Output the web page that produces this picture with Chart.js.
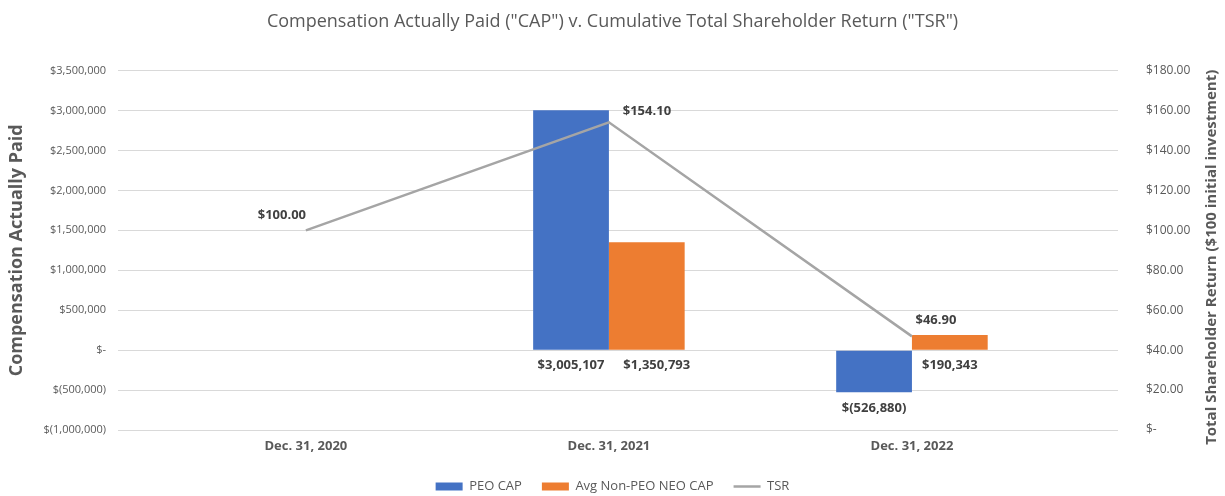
<!DOCTYPE html>
<html>
<head>
<meta charset="utf-8">
<script src="https://cdn.jsdelivr.net/npm/chart.js@4.4.1/dist/chart.umd.min.js"></script>
<style>
    html, body { margin: 0; padding: 0; background: #fff; }
    #wrap { width: 1225px; height: 496px; }
</style>
</head>
<body>
<div id="wrap"><canvas id="capChart" width="1225" height="496"></canvas></div>
<script>
// values
const categories = ['Dec. 31, 2020', 'Dec. 31, 2021', 'Dec. 31, 2022'];
const peoCap = [null, 3005107, -526880];
const avgNonPeoCap = [null, 1350793, 190343];
const tsr = [100.00, 154.10, 46.90];
const capTicks = [-1000000, -500000, 0, 500000, 1000000, 1500000, 2000000, 2500000, 3000000, 3500000];
const tsrTicks = [0, 20, 40, 60, 80, 100, 120, 140, 160, 180];

const FONT = '"Open Sans", sans-serif';
const GREY = '#595959';

function fmtCap(v) {
    if (v === 0) return '$-';
    if (v < 0) return '$(' + Math.abs(v).toLocaleString('en-US') + ')';
    return '$' + v.toLocaleString('en-US');
}

function fmtTsr(v) {
    return v === 0 ? '$-' : '$' + v.toFixed(2);
}

const toPoints = arr => arr.map((y, i) => ({ x: i, y: y }));

// bar values under the bars, TSR values beside the points, right axis title
const valueLabels = {
    id: 'valueLabels',
    afterDatasetsDraw(chart, args, opts) {
        const ctx = chart.ctx;
        ctx.save();
        ctx.font = 'bold 13px ' + FONT;
        ctx.fillStyle = '#404040';
        ctx.textAlign = 'center';
        ctx.textBaseline = 'middle';
        [0, 1].forEach(di => {
            const ds = chart.data.datasets[di];
            chart.getDatasetMeta(di).data.forEach((bar, i) => {
                const v = ds.data[i].y;
                if (v == null) return;
                const shift = (di === 1 && v > 1000000) ? 10 : 0;
                ctx.fillText(fmtCap(v), bar.x + shift, Math.max(bar.y, bar.base) + 16);
            });
        });
        const lineDs = chart.data.datasets[2];
        chart.getDatasetMeta(2).data.forEach((pt, i) => {
            const off = opts.offsets[i] || [0, -14];
            ctx.fillText(fmtTsr(lineDs.data[i].y), pt.x + off[0], pt.y + off[1]);
        });

        const area = chart.chartArea;
        ctx.font = 'bold 15px ' + FONT;
        ctx.fillStyle = GREY;
        ctx.translate(1212, (area.top + area.bottom) / 2 + 7);
        ctx.rotate(-Math.PI / 2);
        ctx.fillText('Total Shareholder Return ($100 initial investment)', 0, 0);
        ctx.restore();
    }
};

const chart = new Chart(document.getElementById('capChart'), {
    data: {
        datasets: [
            {
                type: 'bar',
                label: 'PEO CAP',
                data: toPoints(peoCap),
                yAxisID: 'y',
                backgroundColor: '#4472C4',
                pointStyle: 'rect',
                categoryPercentage: 0.5,
                barPercentage: 1.0,
                order: 1
            },
            {
                type: 'bar',
                label: 'Avg Non-PEO NEO CAP',
                data: toPoints(avgNonPeoCap),
                yAxisID: 'y',
                backgroundColor: '#ED7D31',
                pointStyle: 'rect',
                categoryPercentage: 0.5,
                barPercentage: 1.0,
                order: 1
            },
            {
                type: 'line',
                label: 'TSR',
                data: toPoints(tsr),
                yAxisID: 'y1',
                borderColor: '#A5A5A5',
                backgroundColor: '#A5A5A5',
                borderWidth: 2.5,
                pointRadius: 0,
                pointStyle: 'line',
                order: 0
            }
        ]
    },
    options: {
        responsive: false,
        animation: false,
        plugins: {
            title: {
                display: true,
                text: 'Compensation Actually Paid ("CAP") v. Cumulative Total Shareholder Return ("TSR")',
                color: GREY,
                font: { family: FONT, size: 18, weight: 'normal' },
                padding: { top: 11, bottom: 38 }
            },
            legend: {
                position: 'bottom',
                maxHeight: 36,
                labels: {
                    usePointStyle: true,
                    pointStyleWidth: 27,
                    boxHeight: 8,
                    padding: 20,
                    color: GREY,
                    font: { family: FONT, size: 13 },
                    sort: (a, b) => a.datasetIndex - b.datasetIndex
                }
            },
            tooltip: { enabled: false },
            valueLabels: {
                offsets: [[-24, -15], [38, -11], [24, -16]]
            }
        },
        scales: {
            x: {
                type: 'linear',
                min: -0.62,
                max: 2.68,
                offset: false,
                grid: { display: false, drawTicks: false },
                border: { display: false },
                afterBuildTicks: s => { s.ticks = categories.map((c, i) => ({ value: i })); },
                afterFit: s => { s.height = 30; },
                ticks: {
                    padding: 8,
                    color: GREY,
                    font: { family: FONT, size: 13, weight: 'bold' },
                    callback: v => categories[v]
                }
            },
            y: {
                position: 'left',
                min: capTicks[0],
                max: capTicks[capTicks.length - 1],
                afterBuildTicks: s => { s.ticks = capTicks.map(v => ({ value: v })); },
                afterFit: s => { s.width = 118; },
                grid: { color: '#D9D9D9', drawTicks: false },
                border: { display: false },
                ticks: {
                    padding: 12,
                    color: GREY,
                    font: { family: FONT, size: 11 },
                    callback: v => fmtCap(v)
                },
                title: {
                    display: true,
                    text: 'Compensation Actually Paid',
                    color: GREY,
                    font: { family: FONT, size: 18, weight: 'bold' },
                    padding: { top: 6, bottom: 0 }
                }
            },
            y1: {
                position: 'right',
                min: tsrTicks[0],
                max: tsrTicks[tsrTicks.length - 1],
                afterBuildTicks: s => { s.ticks = tsrTicks.map(v => ({ value: v })); },
                afterFit: s => { s.width = 107; },
                grid: { display: false },
                border: { display: false },
                ticks: {
                    padding: 20,
                    color: GREY,
                    font: { family: FONT, size: 12 },
                    callback: v => fmtTsr(v)
                }
            }
        }
    },
    plugins: [valueLabels]
});
</script>
</body>
</html>
